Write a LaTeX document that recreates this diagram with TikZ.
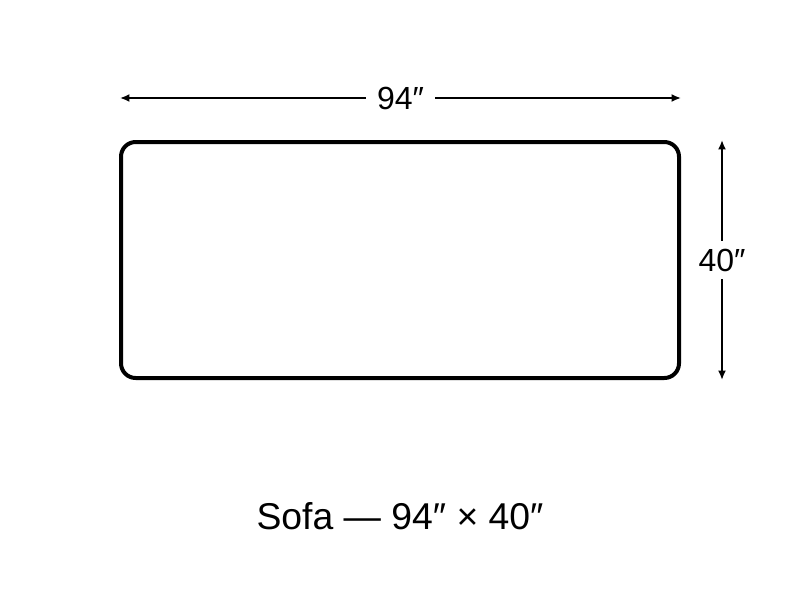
\documentclass[tikz,border=0pt]{standalone}
\usepackage{fontspec}
\setmainfont{Liberation Sans}
\usetikzlibrary{arrows.meta}
\begin{document}
\begin{tikzpicture}[x=0.75pt,y=-0.75pt,
  sofabox/.style={draw=black,line width=3pt,rounded corners=11pt},
  dimline/.style={draw=black,line width=1.5pt,{Latex[length=7pt,width=6pt]}-{Latex[length=7pt,width=6pt]}},
  dimlabel/.style={fill=white,inner xsep=8pt,inner ysep=6pt,font=\fontsize{24}{28}\selectfont},
  caption/.style={font=\fontsize{28}{32}\selectfont}]
\useasboundingbox (0,0) rectangle (800,600);
\draw[sofabox] (121,142) rectangle (679,378);
\coordinate (tl) at (120,98);
\coordinate (tr) at (681,98);
\coordinate (rt) at (722,140);
\coordinate (rb) at (722,380);
\draw[dimline] (tl) -- (tr) node[dimlabel,midway] (w) {94″};
\draw[dimline] (rt) -- (rb) node[dimlabel,midway,inner xsep=1pt] (h) {40″};
\node[caption] (cap) at (400,516) {Sofa — 94″ × 40″};
\end{tikzpicture}
\end{document}
